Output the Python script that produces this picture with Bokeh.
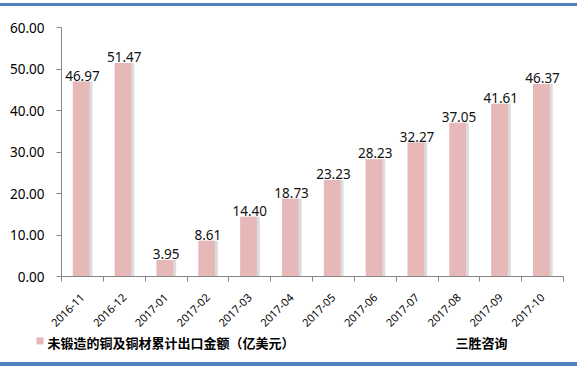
from bokeh.plotting import figure
from bokeh.models import ColumnDataSource, FixedTicker, NumeralTickFormatter, Range1d
from bokeh.core.properties import value
from bokeh.embed import file_html
from bokeh.resources import INLINE
import math

months = ["2016-11", "2016-12", "2017-01", "2017-02", "2017-03", "2017-04",
          "2017-05", "2017-06", "2017-07", "2017-08", "2017-09", "2017-10"]
values = [46.97, 51.47, 3.95, 8.61, 14.40, 18.73, 23.23, 28.23, 32.27, 37.05, 41.61, 46.37]
y_ticks = [0, 10, 20, 30, 40, 50, 60]
series_name = "未锻造的铜及铜材累计出口金额（亿美元）"
source_name = "三胜咨询"

FONT = "Noto Sans CJK SC"
BAR = "#e6b9b8"
BLUE = "#4f81bd"

centers = [i + 0.5 for i in range(len(months))]
src = ColumnDataSource(dict(
    x=centers,
    xb=[c - 0.03 for c in centers],
    xs=[c + 0.04 for c in centers],
    top=values,
    label=["%.2f" % v for v in values],
))

TOP_H = 333
W = 577
H = 367

# ---------------- main chart ----------------
p = figure(width=W, height=TOP_H, output_backend="svg", toolbar_location=None,
           x_range=Range1d(0, len(months)), y_range=Range1d(0, 60),
           min_border_left=61, min_border_right=14, min_border_top=27,
           min_border_bottom=TOP_H - 276)
p.outline_line_color = None
p.xgrid.visible = False
p.ygrid.visible = False
p.border_fill_color = None
p.background_fill_color = None
p.styles = {
    "background-color": "#ffffff",
    "background-image": "linear-gradient(%s,%s)" % (BLUE, BLUE),
    "background-size": "100% 3px",
    "background-position": "0 3px",
    "background-repeat": "no-repeat",
}

p.vbar(x="xs", top="top", width=0.4, source=src, fill_color="#dcdcdc", line_color=None)
p.vbar(x="xb", top="top", width=0.4, source=src, fill_color=BAR, line_color=None)
p.text(x="x", y="top", text="label", source=src, text_align="center", text_baseline="middle",
       y_offset=-6, text_font_size="13.5px", text_color="#111111", text_font=value("Noto Sans"))

ya = p.yaxis[0]
ya.ticker = FixedTicker(ticks=y_ticks)
ya.formatter = NumeralTickFormatter(format="0.00")
ya.axis_line_color = "#868686"
ya.major_tick_line_color = "#868686"
ya.major_tick_out = 5
ya.major_tick_in = 0
ya.minor_tick_line_color = None
ya.major_label_text_font_size = "13.5px"
ya.major_label_text_font = "Noto Sans"
ya.major_label_text_color = "#000000"
ya.major_label_standoff = 12

xa = p.xaxis[0]
xa.ticker = FixedTicker(ticks=centers, minor_ticks=list(range(len(months) + 1)))
xa.major_label_overrides = {c: m for c, m in zip(centers, months)}
xa.axis_line_color = "#868686"
xa.major_tick_line_color = None
xa.minor_tick_line_color = "#868686"
xa.minor_tick_out = 5
xa.minor_tick_in = 0
xa.major_label_orientation = math.pi / 4
xa.major_label_text_font_size = "11px"
xa.major_label_text_font = "Noto Sans"
xa.major_label_text_color = "#000000"
xa.major_label_standoff = 13

# ---------------- legend strip (separate root, so its frame is not aligned) ----------------
LH = H - TOP_H
lg = figure(width=W, height=LH, output_backend="svg", toolbar_location=None,
            x_range=Range1d(0, W), y_range=Range1d(LH, 0),
            min_border=0, min_border_left=0, min_border_right=0,
            min_border_top=0, min_border_bottom=0)
lg.axis.visible = False
lg.grid.visible = False
lg.outline_line_color = None
lg.border_fill_color = None
lg.background_fill_color = None
lg.styles = {
    "background-color": "#ffffff",
    "background-image": "linear-gradient(%s,%s)" % (BLUE, BLUE),
    "background-size": "100% 4px",
    "background-position": "0 %dpx" % (362 - TOP_H),
    "background-repeat": "no-repeat",
}
lg.scatter(x=[39.5], y=[340.5 - TOP_H], marker="square", size=7, fill_color=BAR, line_color=None)
lg.text(x=[47], y=[342 - TOP_H], text=[series_name], text_font=value(FONT), text_font_size="13px",
        text_font_style="bold", text_baseline="middle", text_align="left", text_color="#000000")
lg.text(x=[455], y=[342 - TOP_H], text=[source_name], text_font=value(FONT), text_font_size="13px",
        text_font_style="bold", text_baseline="middle", text_align="left", text_color="#000000")

open("out.html", "w").write(file_html([p, lg], INLINE))
